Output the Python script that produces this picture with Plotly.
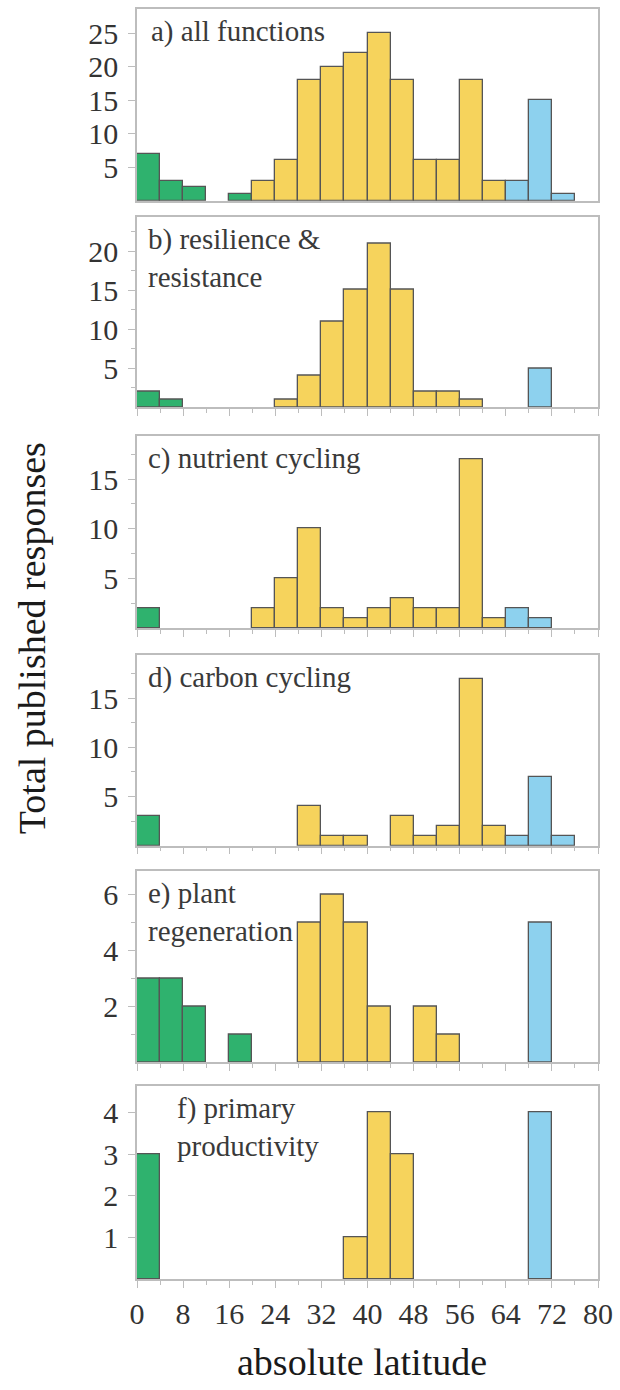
import plotly.graph_objects as go

# ---------------- data ----------------
bin_starts = [0, 4, 8, 12, 16, 20, 24, 28, 32, 36, 40, 44, 48, 52, 56, 60, 64, 68, 72, 76]
bin_width = 4
panel_labels = ["a) all functions", "b) resilience &<br>resistance", "c) nutrient cycling",
                "d) carbon cycling", "e) plant<br>regeneration", "f) primary<br>productivity"]
counts_all = [7, 3, 2, 0, 1, 3, 6, 18, 20, 22, 25, 18, 6, 6, 18, 3, 3, 15, 1, 0]
counts_resilience = [2, 1, 0, 0, 0, 0, 1, 4, 11, 15, 21, 15, 2, 2, 1, 0, 0, 5, 0, 0]
counts_nutrient = [2, 0, 0, 0, 0, 2, 5, 10, 2, 1, 2, 3, 2, 2, 17, 1, 2, 1, 0, 0]
counts_carbon = [3, 0, 0, 0, 0, 0, 0, 4, 1, 1, 0, 3, 1, 2, 17, 2, 1, 7, 1, 0]
counts_plant = [3, 3, 2, 0, 1, 0, 0, 5, 6, 5, 2, 0, 2, 1, 0, 0, 0, 5, 0, 0]
counts_primary = [3, 0, 0, 0, 0, 0, 0, 0, 0, 1, 4, 3, 0, 0, 0, 0, 0, 4, 0, 0]
panel_counts = [counts_all, counts_resilience, counts_nutrient, counts_carbon, counts_plant, counts_primary]

zone_limits = [20, 64]          # tropical < 20 <= temperate < 64 <= polar
zone_colors = ["#2fb26e", "#f6d35c", "#8dd1ee"]

y_tickvals = [[5, 10, 15, 20, 25], [5, 10, 15, 20], [5, 10, 15], [5, 10, 15], [2, 4, 6], [1, 2, 3, 4]]
y_minorvals = [[], [2.5, 7.5, 12.5, 17.5, 22.5], [2.5, 7.5, 12.5, 17.5], [2.5, 7.5, 12.5, 17.5],
               [1, 3, 5], []]
y_max = [28.6, 24.4, 19.3, 19.4, 6.87, 4.63]
x_tickvals = list(range(0, 81, 8))

# ---------------- layout geometry (pixels) ----------------
W, H = 620, 1390
plot_left, plot_right = 137, 599
panel_px = [(7, 199), (215, 406), (435, 627), (654, 845), (870, 1062), (1086, 1279)]
top_px, bottom_px = 7, 1279
span = bottom_px - top_px
label_x = [0.025, 0.02, 0.02, 0.02, 0.02, 0.082]

FONT = "Liberation Serif"
frame_col = "#bdbdbd"

fig = go.Figure()

def zone(x0):
    if x0 < zone_limits[0]:
        return 0
    if x0 < zone_limits[1]:
        return 1
    return 2

for i, counts in enumerate(panel_counts):
    n = i + 1
    for z in range(3):
        xs = [b + bin_width / 2 for b, c in zip(bin_starts, counts) if zone(b) == z and c > 0]
        ys = [c for b, c in zip(bin_starts, counts) if zone(b) == z and c > 0]
        fig.add_trace(go.Bar(
            x=xs, y=ys, width=bin_width,
            marker=dict(color=zone_colors[z], line=dict(color="#555555", width=1.3)),
            xaxis=f"x{n}", yaxis=f"y{n}", showlegend=False, hoverinfo="x+y"))

layout = dict(
    width=W, height=H,
    margin=dict(l=plot_left, r=W - plot_right, t=top_px, b=H - bottom_px),
    paper_bgcolor="white", plot_bgcolor="white",
    font=dict(family=FONT, color="#333333", size=29),
    bargap=0, barmode="overlay",
)

for i in range(6):
    n = i + 1
    sfx = "" if n == 1 else str(n)
    t, b = panel_px[i]
    dom = [(bottom_px - b) / span, (bottom_px - t) / span]
    last = (n == 6)
    layout[f"xaxis{sfx}"] = dict(
        domain=[0, 1], anchor=f"y{sfx}", range=[0, 80],
        showline=True, mirror=True, linecolor=frame_col, linewidth=1.5,
        showgrid=False, zeroline=False,
        ticks="" if n == 1 else "outside", ticklen=7, tickcolor=frame_col, tickwidth=1.2,
        tickvals=x_tickvals, showticklabels=last, ticklabelstandoff=0,
        tickfont=dict(size=30, color="#333333", family=FONT),
        minor=dict(tickvals=[v + 4 for v in x_tickvals[:-1]], ticks="" if n == 1 else "outside",
                   ticklen=4, tickcolor=frame_col, tickwidth=1.2),
    )
    layout[f"yaxis{sfx}"] = dict(
        domain=dom, anchor=f"x{sfx}", range=[0, y_max[i]],
        showline=True, mirror=True, linecolor=frame_col, linewidth=1.5,
        showgrid=False, zeroline=False,
        ticks="outside", ticklen=7, tickcolor=frame_col, tickwidth=1.2,
        tickvals=y_tickvals[i], ticklabelstandoff=4,
        tickfont=dict(size=30, color="#333333", family=FONT),
        minor=dict(tickvals=y_minorvals[i], ticks="outside", ticklen=4,
                   tickcolor=frame_col, tickwidth=1.2),
    )

annotations = []
for i, lab in enumerate(panel_labels):
    n = i + 1
    sfx = "" if n == 1 else str(n)
    annotations.append(dict(
        text=lab, xref=f"x{sfx} domain", yref=f"y{sfx} domain",
        x=label_x[i], y=1, xanchor="left", yanchor="top", yshift=-4,
        showarrow=False, align="left",
        font=dict(family=FONT, size=29, color="#3a3a3a")))

annotations.append(dict(
    text="Total published responses", xref="paper", yref="paper",
    x=(32 - plot_left) / (plot_right - plot_left), y=(bottom_px - 637) / span,
    xanchor="center", yanchor="middle", textangle=-90, showarrow=False,
    font=dict(family=FONT, size=38, color="#1a1a1a")))
annotations.append(dict(
    text="absolute latitude", xref="paper", yref="paper",
    x=(362 - plot_left) / (plot_right - plot_left), y=(bottom_px - 1362) / span,
    xanchor="center", yanchor="middle", showarrow=False,
    font=dict(family=FONT, size=38, color="#1a1a1a")))
layout["annotations"] = annotations

fig.update_layout(**layout)
fig.write_html("out.html")
